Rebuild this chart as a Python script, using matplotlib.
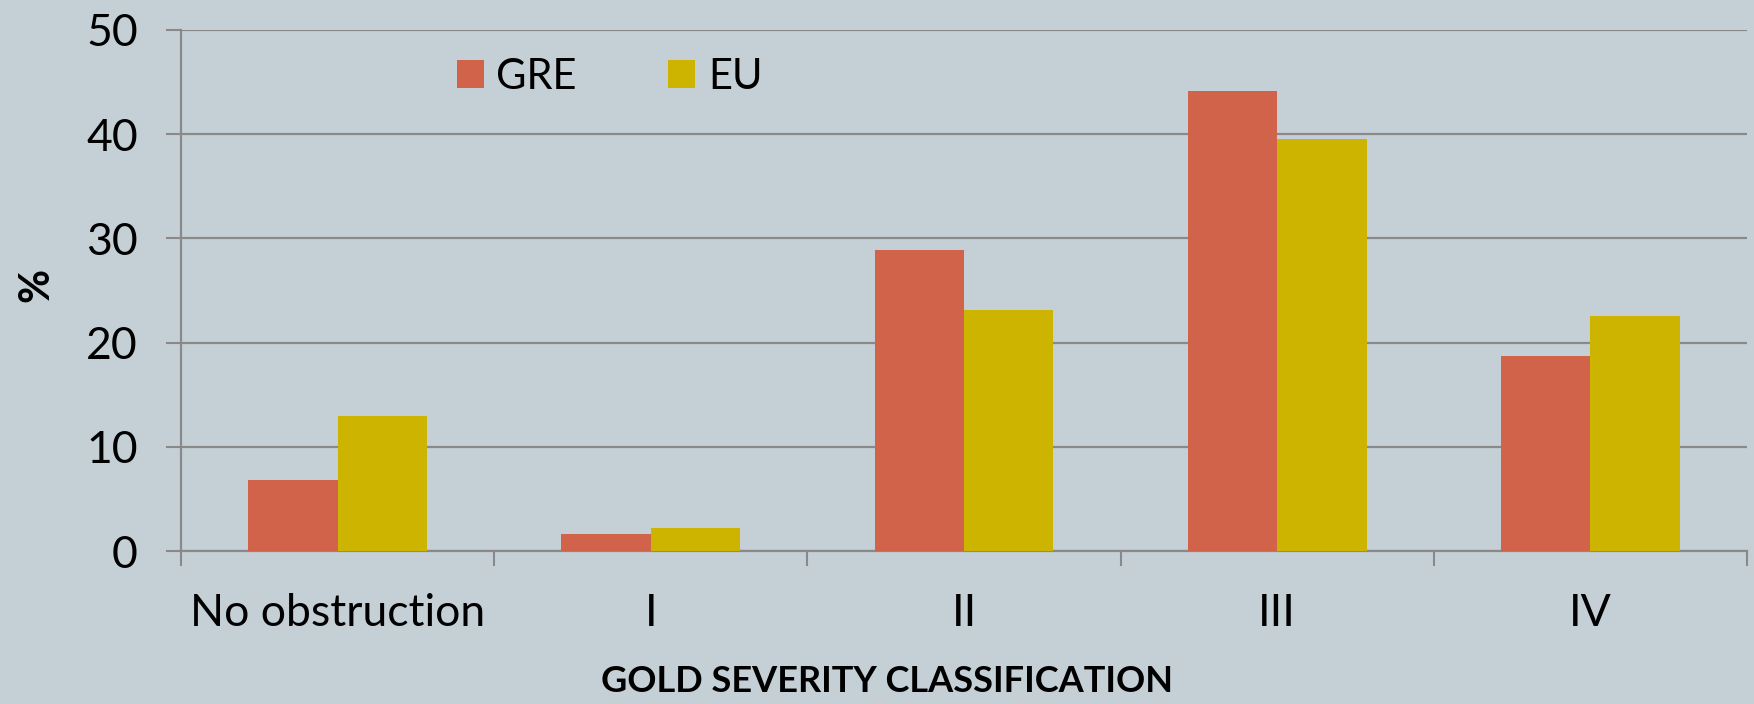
import matplotlib
matplotlib.use("Agg")
import matplotlib.pyplot as plt
import numpy as np

# data
categories = ["No obstruction", "I", "II", "III", "IV"]
gre = [6.8, 1.6, 28.9, 44.1, 18.7]
eu = [13.0, 2.2, 23.1, 39.5, 22.6]
series_names = ["GRE", "EU"]
yticks = [0, 10, 20, 30, 40, 50]

BG = "#C5D0D6"
GRE_COLOR = "#D2634B"
EU_COLOR = "#CDB400"
GRID = "#898989"

plt.rcParams['font.family'] = ['Lato', 'DejaVu Sans']

fig = plt.figure(figsize=(17.54, 7.04), dpi=100, facecolor=BG)
ax = fig.add_axes([181 / 1754, 1 - 551 / 704, 1566 / 1754, 521 / 704])
ax.set_facecolor(BG)

x = np.arange(len(categories))
w = 0.2857
ax.bar(x - w / 2, gre, w, color=GRE_COLOR, label=series_names[0], zorder=3)
ax.bar(x + w / 2, eu, w, color=EU_COLOR, label=series_names[1], zorder=3)

ax.set_xlim(-0.5, len(categories) - 0.5)
ax.set_ylim(0, 50)

# y axis
ax.set_yticks(yticks)
ax.tick_params(axis='y', length=11, width=1.5, color=GRID, pad=20, labelsize=32)
ax.yaxis.grid(True, color=GRID, linewidth=1.6, zorder=0)
ax.set_axisbelow(True)

# x axis: ticks at category borders, labels in the middle
ax.set_xticks(np.arange(len(categories) + 1) - 0.5)
ax.set_xticklabels([])
ax.tick_params(axis='x', which='major', length=11, width=1.5, color=GRID)
ax.set_xticks(x, minor=True)
ax.set_xticklabels(categories, minor=True)
ax.tick_params(axis='x', which='minor', length=0, pad=30, labelsize=32)

for s in ['top', 'right']:
    ax.spines[s].set_visible(False)
for s in ['left', 'bottom']:
    ax.spines[s].set_color(GRID)
    ax.spines[s].set_linewidth(1.6)

leg = ax.legend(loc='center left', bbox_to_anchor=(0.176, 0.91), ncol=2, frameon=False,
                fontsize=30, handlelength=0.65, handleheight=0.65, handletextpad=0.3,
                columnspacing=2.2, borderpad=0, borderaxespad=0)

fig.text(36 / 1754, 1 - 285 / 704, "%", rotation=90, fontsize=30, fontweight='bold',
         ha='center', va='center')
fig.text(887 / 1754, 1 - 681 / 704, "GOLD SEVERITY CLASSIFICATION", fontsize=26,
         fontweight='bold', ha='center', va='center')

fig.savefig("out.png", dpi=100, facecolor=BG)
